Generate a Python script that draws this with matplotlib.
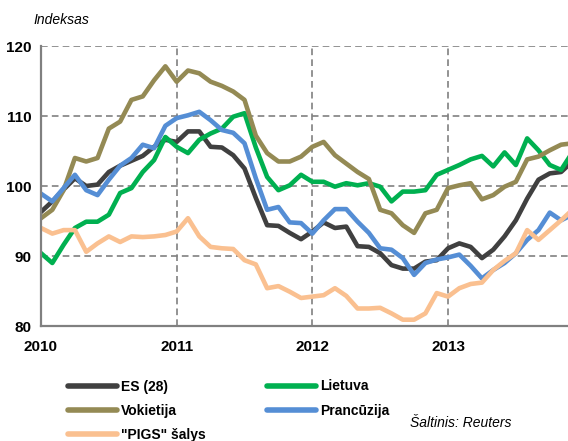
import matplotlib
matplotlib.use('Agg')
import matplotlib.pyplot as plt
import numpy as np

# monthly index values, Jan 2010 .. Dec 2013
es28 = [96.3, 97.8, 99.5, 101.1, 100.0, 100.2, 102.0, 102.9, 103.6, 104.3,
        105.6, 106.6, 106.3, 107.8, 107.8, 105.6, 105.5, 104.4, 102.5, 98.3,
        94.4, 94.3, 93.3, 92.4, 93.5, 94.8, 94.0, 94.2, 91.4, 91.3,
        90.4, 88.7, 88.2, 88.2, 89.2, 89.4, 91.1, 91.8, 91.3, 89.7,
        90.9, 92.8, 95.1, 98.2, 100.9, 101.8, 102.0, 103.5]
vokietija = [95.4, 96.6, 99.4, 104.0, 103.5, 104.0, 108.2, 109.2, 112.3, 112.8,
             115.1, 117.1, 114.9, 116.5, 116.1, 114.9, 114.3, 113.5, 112.3, 107.2,
             104.7, 103.5, 103.5, 104.2, 105.6, 106.3, 104.4, 103.2, 102.0, 101.0,
             96.6, 96.1, 94.4, 93.3, 96.1, 96.6, 99.7, 100.1, 100.4, 98.1,
             98.7, 99.9, 100.6, 103.8, 104.2, 105.1, 105.9, 106.1]
lietuva = [90.4, 89.0, 91.6, 94.0, 94.9, 94.9, 95.9, 99.0, 99.7, 102.0,
           103.7, 107.0, 105.6, 104.7, 106.6, 107.5, 108.2, 109.9, 110.4, 105.5,
           101.3, 99.4, 100.1, 101.6, 100.6, 100.6, 99.9, 100.4, 100.1, 100.4,
           99.9, 97.8, 99.2, 99.2, 99.4, 101.6, 102.3, 103.0, 103.8, 104.3,
           102.8, 104.8, 103.0, 106.8, 105.1, 103.0, 102.3, 104.8]
prancuzija = [98.9, 97.8, 99.7, 101.6, 99.4, 98.7, 100.9, 102.9, 104.0, 105.9,
              105.4, 108.6, 109.7, 110.1, 110.6, 109.4, 108.0, 107.6, 106.1, 101.1,
              96.6, 97.0, 94.8, 94.7, 93.2, 95.1, 96.7, 96.7, 94.9, 93.3,
              91.1, 90.9, 89.7, 87.3, 89.0, 89.5, 89.8, 90.2, 88.6, 86.8,
              88.0, 89.0, 90.4, 92.3, 93.7, 96.2, 95.1, 95.9]
pigs = [94.0, 93.2, 93.7, 93.7, 90.6, 91.8, 92.8, 92.0, 92.8, 92.7,
        92.8, 93.0, 93.5, 95.4, 92.8, 91.3, 91.1, 91.0, 89.4, 88.8,
        85.4, 85.7, 84.9, 84.0, 84.2, 84.4, 85.4, 84.3, 82.5, 82.5,
        82.6, 81.8, 80.9, 80.9, 81.8, 84.7, 84.2, 85.4, 86.0, 86.2,
        88.0, 89.3, 90.4, 93.7, 92.3, 93.7, 95.1, 96.6]
years = ['2010', '2011', '2012', '2013']

months = np.arange(len(es28))

plt.rcParams['font.family'] = ['Liberation Sans', 'DejaVu Sans']

fig = plt.figure(figsize=(5.68, 4.41), dpi=100)
ax = fig.add_axes([41 / 568, 115 / 441, 528 / 568, 280 / 441])

lw = 3.3
ax.plot(months, es28, color='#404040', lw=lw, label='ES (28)', zorder=3)
ax.plot(months, lietuva, color='#00B050', lw=lw, label='Lietuva', zorder=4)
ax.plot(months, vokietija, color='#948A54', lw=lw, label='Vokietija', zorder=5)
ax.plot(months, prancuzija, color='#558ED5', lw=lw, label='Prancūzija', zorder=6)
ax.plot(months, pigs, color='#FAC090', lw=lw, label='"PIGS" šalys', zorder=7)

ax.set_xlim(0, 46.7)
ax.set_ylim(80, 120)
ax.set_yticks([80, 90, 100, 110, 120])
ax.set_xticks([0, 12, 24, 36])
ax.set_xticklabels(years)
ax.tick_params(length=0, labelsize=11, pad=7)
for t in ax.get_xticklabels() + ax.get_yticklabels():
    t.set_fontweight('bold')
ax.tick_params(axis='x', pad=10)

ax.grid(True, color='#808080', ls=(0, (4, 2.5)), lw=1.2, zorder=1)
for s in ['top', 'right']:
    ax.spines[s].set_visible(False)
for s in ['left', 'bottom']:
    ax.spines[s].set_color('#808080')
    ax.spines[s].set_linewidth(1.6)
    ax.spines[s].set_zorder(8)

fig.text(33 / 568, 1 - 20 / 441, 'Indeksas', fontsize=10, style='italic', va='center')

h, l = ax.get_legend_handles_labels()
order = [0, 2, 4, 1, 3]
leg = fig.legend([h[i] for i in order], [l[i] for i in order], ncol=2,
                 loc='upper left', bbox_to_anchor=(56 / 568, 1 - 367 / 441),
                 frameon=False, handlelength=3.5, handletextpad=0.3,
                 columnspacing=4.4, labelspacing=0.75,
                 prop={'weight': 'bold', 'size': 10})
for line in leg.get_lines():
    line.set_linewidth(4)
    line.set_solid_capstyle('round')

fig.text(512 / 568, 1 - 423 / 441, 'Šaltinis: Reuters', fontsize=10, style='italic',
         ha='right', va='center')

fig.savefig('out.png', dpi=100)
